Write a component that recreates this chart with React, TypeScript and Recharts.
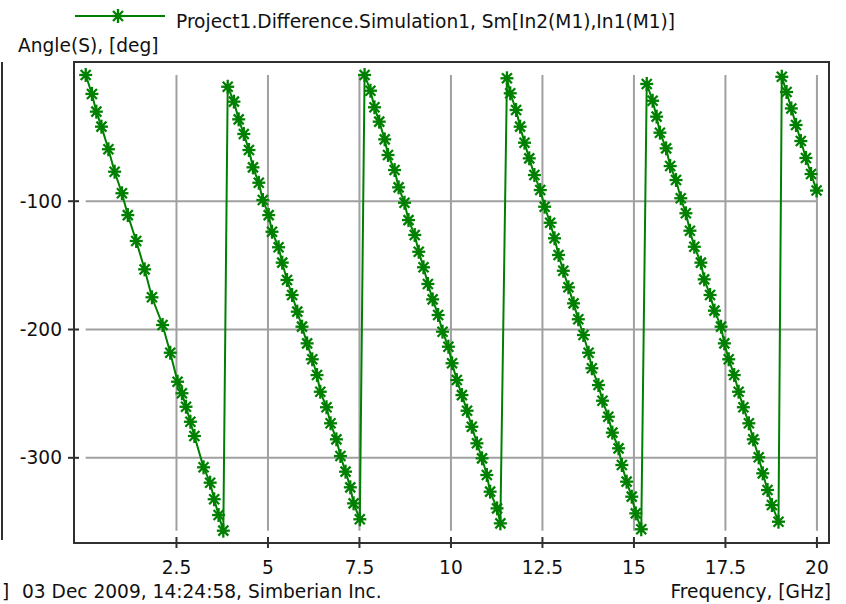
import { LineChart, Line, XAxis, YAxis, ReferenceLine, ReferenceArea } from "recharts";

// S-parameter phase sweep, wrapped to [-360, 0] deg. One pair of arrays per wrap.
const seg1Freq = [0.02, 0.19, 0.31, 0.45, 0.64, 0.81, 1.01, 1.17, 1.4, 1.63, 1.83, 2.12, 2.33, 2.53, 2.65, 2.76, 2.88, 2.99, 3.24, 3.42, 3.53, 3.65, 3.78];
const seg1Angle = [-1.6, -16.4, -30.2, -41.9, -59.5, -77.0, -93.8, -110.8, -131.0, -153.1, -174.9, -196.5, -218.1, -240.7, -249.7, -260.2, -271.9, -283.0, -307.4, -319.4, -332.3, -344.6, -356.8];

const seg2Freq = [3.9, 4.07, 4.2, 4.34, 4.48, 4.59, 4.75, 4.86, 5.02, 5.11, 5.29, 5.39, 5.52, 5.66, 5.8, 5.93, 6.07, 6.21, 6.34, 6.43, 6.6, 6.71, 6.87, 6.98, 7.12, 7.25, 7.34, 7.51];
const seg2Angle = [-10.8, -22.4, -36.2, -47.6, -60.1, -73.6, -85.6, -99.1, -110.8, -123.8, -135.9, -147.9, -161.4, -173.1, -186.1, -197.8, -210.8, -223.2, -235.5, -248.5, -260.6, -273.1, -285.6, -298.6, -310.8, -323.0, -335.5, -347.9];

const seg3Freq = [7.64, 7.8, 7.91, 8.04, 8.19, 8.28, 8.46, 8.57, 8.73, 8.84, 9.01, 9.12, 9.25, 9.37, 9.5, 9.65, 9.77, 9.93, 10.03, 10.16, 10.3, 10.44, 10.57, 10.71, 10.85, 10.98, 11.07, 11.26, 11.35];
const seg3Angle = [-1.6, -13.9, -26.8, -38.0, -51.8, -64.0, -75.7, -89.2, -101.2, -114.7, -126.3, -139.4, -151.5, -164.5, -176.5, -188.7, -201.7, -213.4, -226.3, -239.4, -251.1, -263.3, -275.8, -288.7, -300.4, -313.4, -326.4, -339.4, -351.1];

const seg4Freq = [11.53, 11.62, 11.78, 11.89, 12.01, 12.14, 12.28, 12.44, 12.56, 12.71, 12.83, 12.94, 13.07, 13.21, 13.35, 13.48, 13.62, 13.76, 13.85, 14.03, 14.14, 14.3, 14.41, 14.58, 14.67, 14.8, 14.94, 15.05, 15.2];
const seg4Angle = [-4.2, -15.9, -28.9, -41.9, -54.4, -66.6, -79.6, -91.3, -104.3, -116.8, -128.9, -141.9, -154.2, -167.1, -179.6, -192.0, -204.3, -218.1, -230.2, -243.3, -255.5, -268.0, -280.4, -292.6, -305.6, -318.6, -330.3, -343.3, -355.7];

const seg5Freq = [15.35, 15.51, 15.62, 15.71, 15.88, 15.99, 16.15, 16.28, 16.42, 16.53, 16.65, 16.83, 16.92, 17.08, 17.2, 17.38, 17.47, 17.59, 17.74, 17.86, 17.99, 18.14, 18.26, 18.41, 18.52, 18.65, 18.77, 18.95];
const seg5Angle = [-8.6, -21.7, -34.1, -46.6, -58.8, -72.6, -83.5, -97.7, -109.4, -123.0, -135.5, -147.9, -160.9, -173.1, -185.3, -197.8, -210.8, -223.2, -235.5, -248.5, -260.6, -273.1, -285.6, -299.6, -312.1, -325.1, -336.8, -349.8];

const seg6Freq = [19.04, 19.17, 19.3, 19.43, 19.56, 19.7, 19.84, 19.99];
const seg6Angle = [-3.0, -14.9, -27.7, -40.6, -53.1, -66.3, -78.8, -91.7];

const xTicks = [2.5, 5, 7.5, 10, 12.5, 15, 17.5, 20];
const yTicks = [-100, -200, -300];

const sweeps: Array<[number[], number[]]> = [
  [seg1Freq, seg1Angle],
  [seg2Freq, seg2Angle],
  [seg3Freq, seg3Angle],
  [seg4Freq, seg4Angle],
  [seg5Freq, seg5Angle],
  [seg6Freq, seg6Angle]
];

const points = sweeps.flatMap(([f, a]) => f.map((freq, i) => ({ freq, angle: a[i] })));

// grid only covers the data extent, the axes are padded a bit beyond it
const fMin = Math.min(...points.map((p) => p.freq));
const fMax = Math.max(...points.map((p) => p.freq));
const aMin = Math.min(...points.map((p) => p.angle));
const aMax = Math.max(...points.map((p) => p.angle));
const xDomain: [number, number] = [-0.3, 20.33];
const yDomain: [number, number] = [-366.4, 8.5];

const GREEN = "#008000";
const INK = "#111";
const FRAME = "#303030";
const GRID = "#a0a0a0";
const FONT = "'DejaVu Sans', sans-serif";
const FS = 18.6;

// star marker used on every sample point and in the legend
function Asterisk(props: any) {
  const { cx, cy } = props;
  if (cx == null || cy == null) return null;
  return (
    <g stroke={GREEN} strokeWidth={2.3}>
      <line x1={cx - 6.5} y1={cy} x2={cx + 6.5} y2={cy} />
      <line x1={cx} y1={cy - 7} x2={cx} y2={cy + 7} />
      <line x1={cx - 5} y1={cy - 5} x2={cx + 5} y2={cy + 5} />
      <line x1={cx - 5} y1={cy + 5} x2={cx + 5} y2={cy - 5} />
      <circle cx={cx} cy={cy} r={3} fill={GREEN} stroke="none" />
    </g>
  );
}

function XTick(props: any) {
  const { x, y, payload } = props;
  return (
    <g>
      <line x1={x} x2={x} y1={y - 6} y2={y + 5} stroke={FRAME} strokeWidth={2} />
      <text x={x} y={y + 31} textAnchor="middle" fontFamily={FONT} fontSize={FS} fill={INK}>
        {payload.value}
      </text>
    </g>
  );
}

function YTick(props: any) {
  const { x, y, payload } = props;
  return (
    <g>
      <line x1={x - 6} x2={x + 5} y1={y} y2={y} stroke={FRAME} strokeWidth={2} />
      <text x={x - 12} y={y + 6.5} textAnchor="end" fontFamily={FONT} fontSize={FS} fill={INK}>
        {payload.value}
      </text>
    </g>
  );
}

export default function App() {
  return (
    <div style={{ position: "fixed", left: 0, top: 0, width: 846, height: 604, background: "#fff", overflow: "hidden" }}>
      <LineChart width={846} height={604} data={points} margin={{ top: 62, right: 17, bottom: 31, left: 14 }}>
        <XAxis
          type="number"
          dataKey="freq"
          domain={xDomain}
          ticks={xTicks}
          interval={0}
          allowDataOverflow
          height={30}
          axisLine={false}
          tickLine={false}
          tickSize={0}
          tickMargin={0}
          tick={<XTick />}
        />
        <YAxis
          type="number"
          dataKey="angle"
          domain={yDomain}
          ticks={yTicks}
          interval={0}
          allowDataOverflow
          width={60}
          axisLine={false}
          tickLine={false}
          tickSize={0}
          tickMargin={0}
          tick={<YTick />}
        />
        {xTicks.map((t) => (
          <ReferenceLine
            key={"vx" + t}
            segment={[{ x: t, y: aMax }, { x: t, y: aMin }]}
            stroke={GRID}
            strokeWidth={2}
          />
        ))}
        {yTicks.map((t) => (
          <ReferenceLine
            key={"hy" + t}
            segment={[{ x: fMin, y: t }, { x: fMax, y: t }]}
            stroke={GRID}
            strokeWidth={2}
          />
        ))}
        <ReferenceArea
          x1={xDomain[0]}
          x2={xDomain[1]}
          y1={yDomain[0]}
          y2={yDomain[1]}
          fill="none"
          fillOpacity={0}
          stroke={FRAME}
          strokeWidth={2}
        />
        <Line
          type="linear"
          dataKey="angle"
          stroke={GREEN}
          strokeWidth={2}
          dot={<Asterisk />}
          activeDot={false}
          isAnimationActive={false}
        />
      </LineChart>
      <svg width={846} height={604} style={{ position: "absolute", left: 0, top: 0, pointerEvents: "none" }}>
        <line x1={75} y1={16} x2={165} y2={16} stroke={GREEN} strokeWidth={2} />
        <Asterisk cx={118} cy={16} />
        <text x={176} y={28} fontFamily={FONT} fontSize={FS} fill={INK}>
          Project1.Difference.Simulation1, Sm[In2(M1),In1(M1)]
        </text>
        <text x={18} y={52} fontFamily={FONT} fontSize={FS} fill={INK}>
          Angle(S), [deg]
        </text>
        <line x1={2} y1={62} x2={2} y2={540} stroke={FRAME} strokeWidth={2} />
        <text x={2} y={598} fontFamily={FONT} fontSize={FS} fill={INK}>
          ]
        </text>
        <text x={22} y={598} fontFamily={FONT} fontSize={FS} fill={INK}>
          03 Dec 2009, 14:24:58, Simberian Inc.
        </text>
        <text x={831} y={598} textAnchor="end" fontFamily={FONT} fontSize={FS} fill={INK}>
          Frequency, [GHz]
        </text>
      </svg>
    </div>
  );
}
